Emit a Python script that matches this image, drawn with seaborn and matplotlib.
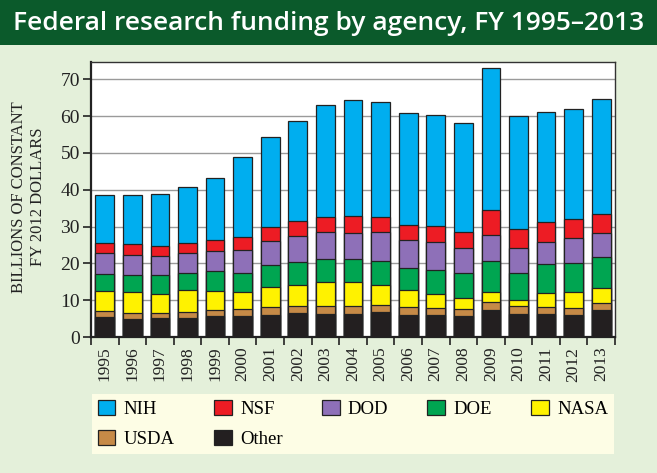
import numpy as np
import pandas as pd
import matplotlib
matplotlib.use('Agg')
import matplotlib.pyplot as plt
from matplotlib.patches import Rectangle, Patch
import seaborn as sns

# Federal research funding, billions of constant FY 2012 dollars
years = [str(y) for y in range(1995, 2014)]
other = [5.3, 4.8, 5.2, 5.2, 5.6, 5.6, 6.1, 6.5, 6.3, 6.3, 6.8, 6.1, 6.1, 5.8, 7.2, 6.3, 6.3, 6.1, 7.2]
usda = [1.8, 1.8, 1.4, 1.7, 1.8, 2.0, 2.1, 1.9, 2.1, 2.1, 2.0, 2.1, 1.9, 1.9, 2.3, 2.1, 1.9, 1.9, 2.0]
nasa = [5.3, 5.7, 5.2, 5.8, 5.2, 4.5, 5.4, 5.6, 6.5, 6.5, 5.3, 4.5, 3.6, 2.8, 2.8, 1.7, 3.7, 4.1, 4.1]
doe = [4.8, 4.6, 5.1, 4.8, 5.3, 5.4, 5.9, 6.5, 6.3, 6.3, 6.6, 6.1, 6.7, 7.0, 8.4, 7.4, 7.8, 7.9, 8.4]
dod = [5.6, 5.4, 5.1, 5.3, 5.5, 6.0, 6.6, 7.0, 7.2, 7.1, 7.7, 7.6, 7.5, 6.7, 7.0, 6.8, 6.1, 6.9, 6.5]
nsf = [2.7, 3.0, 2.8, 2.7, 2.9, 3.7, 3.9, 3.9, 4.3, 4.6, 4.1, 4.0, 4.4, 4.2, 6.8, 5.0, 5.5, 5.1, 5.3]
nih = [13.1, 13.3, 14.1, 15.2, 16.9, 21.6, 24.3, 27.3, 30.4, 31.4, 31.4, 30.4, 30.0, 29.6, 38.5, 30.7, 29.9, 30.0, 31.2]

# stacking order, bottom to top
agencies = ['Other', 'USDA', 'NASA', 'DOE', 'DOD', 'NSF', 'NIH']
series = [other, usda, nasa, doe, dod, nsf, nih]
colors = {'NIH': '#00aeef', 'NSF': '#ed1c24', 'DOD': '#8e70b8', 'DOE': '#00a551',
          'NASA': '#fff200', 'USDA': '#c68a47', 'Other': '#231f20'}
legend_order = ['NIH', 'NSF', 'DOD', 'DOE', 'NASA', 'USDA', 'Other']

df = pd.DataFrame(dict(zip(agencies, series)), index=years)
tops = df.cumsum(axis=1)

bg = '#e4f0da'
serif = 'Liberation Serif'

fig = plt.figure(figsize=(6.57, 4.73), dpi=100, facecolor=bg)

# title banner
fig.patches.append(Rectangle((0, 1 - 45 / 473), 1, 45 / 473, transform=fig.transFigure,
                             facecolor='#0b5a2b', edgecolor='none', zorder=0))
fig.text(0.5, 1 - 23 / 473, 'Federal research funding by agency, FY 1995\u20132013',
         color='white', fontsize=19, family='Open Sans', weight='semibold',
         ha='center', va='center')

ax = fig.add_axes([91 / 657, 136 / 473, 524 / 657, 275 / 473])
ax.set_facecolor('white')

# draw tallest first so shorter stacks sit on top
for name in agencies[::-1]:
    sns.barplot(x=years, y=tops[name].values, color=colors[name], width=0.68,
                edgecolor='#222222', linewidth=0.9, saturation=1, ax=ax, zorder=3)

ax.set_ylim(0, 74.7)
ax.set_xlim(-0.5, len(years) - 0.5)
ax.set_yticks(range(0, 80, 10))
ax.yaxis.grid(True, color='#9a9a9a', linewidth=1.0, zorder=0)
ax.set_axisbelow(True)
ax.set_xlabel('')
ax.set_ylabel('')

ax.set_xticks(range(len(years)))
ax.set_xticklabels(years, rotation=90, family=serif, fontsize=12.5)
ax.set_xticks(np.arange(-0.5, len(years), 1.0), minor=True)
ax.tick_params(axis='x', which='major', length=0, pad=7)
ax.tick_params(axis='x', which='minor', length=6, width=1.2, color='#222222', direction='out')
ax.tick_params(axis='y', length=6, width=1.2, color='#222222', direction='out', pad=2)
for lbl in ax.get_yticklabels():
    lbl.set_family(serif)
    lbl.set_fontsize(14)
    lbl.set_color('#222222')
for lbl in ax.get_xticklabels():
    lbl.set_color('#222222')

for side in ['left', 'bottom']:
    ax.spines[side].set_linewidth(1.6)
    ax.spines[side].set_color('#222222')
for side in ['top', 'right']:
    ax.spines[side].set_linewidth(1.0)
    ax.spines[side].set_color('#333333')

fig.text(29 / 657, (473 - 197) / 473, 'BILLIONS OF CONSTANT\nFY 2012 DOLLARS',
         rotation=90, ha='center', va='center', family=serif, fontsize=12,
         color='#222222', linespacing=1.25)

handles = [Patch(facecolor=colors[n], edgecolor='#222222', linewidth=0.9) for n in legend_order]
# matplotlib fills legend columns first; reorder so rows read like the reference
idx = [0, 5, 1, 6, 2, 3, 4]
leg = fig.legend([handles[i] for i in idx], [legend_order[i] for i in idx],
                 ncol=5, loc='upper left', mode='expand',
                 bbox_to_anchor=(92 / 657, 1 - 399 / 473, 522 / 657, 0.01),
                 frameon=True, fancybox=False, facecolor='#fdfde5', edgecolor='none',
                 framealpha=1, prop={'family': serif, 'size': 13.5},
                 handlelength=0.95, handleheight=0.9, handletextpad=0.45,
                 borderpad=0.3, labelspacing=0.62, borderaxespad=0)

fig.savefig('out.png', dpi=100, facecolor=bg)
